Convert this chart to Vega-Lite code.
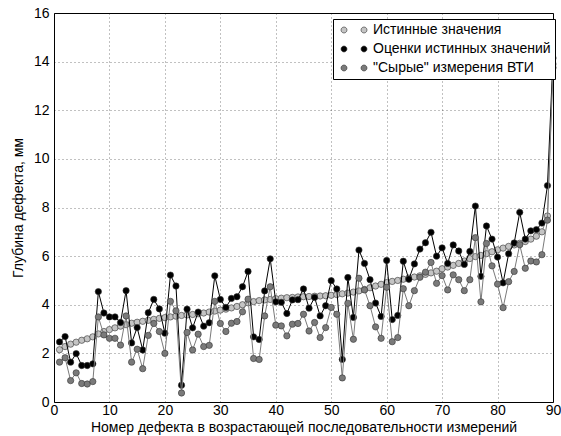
{
 "$schema": "https://vega.github.io/schema/vega-lite/v6.json",
 "width": 499, "height": 389,
 "autosize": {"type": "none"},
 "padding": {"left": 54, "top": 13, "right": 8, "bottom": 34},
 "background": "white",
 "config": {
  "font": "Liberation Sans",
  "view": {"stroke": "black", "strokeWidth": 1},
  "axis": {"grid": true, "gridColor": "#000", "gridDash": [1, 3], "gridWidth": 0.7, "gridOpacity": 0.7, "domain": false, "ticks": false, "labelFontSize": 14, "labelColor": "#000", "titleFontSize": 14, "titleFontWeight": "normal", "titleColor": "#000", "labelFlush": false, "labelOverlap": false}
 },
 "data": {"values": [
  {"x":1,"t":2.15,"e":2.47,"r":1.64},{"x":2,"t":2.28,"e":2.69,"r":1.82},{"x":3,"t":2.38,"e":1.64,"r":0.88},{"x":4,"t":2.46,"e":1.99,"r":1.2},{"x":5,"t":2.54,"e":1.5,"r":0.76},
  {"x":6,"t":2.6,"e":1.5,"r":0.74},{"x":7,"t":2.68,"e":1.57,"r":0.84},{"x":8,"t":2.8,"e":4.54,"r":3.5},{"x":9,"t":2.9,"e":3.66,"r":2.76},{"x":10,"t":2.98,"e":3.5,"r":2.62},
  {"x":11,"t":3.05,"e":3.5,"r":2.62},{"x":12,"t":3.12,"e":3.27,"r":2.34},{"x":13,"t":3.18,"e":4.58,"r":3.54},{"x":14,"t":3.24,"e":2.43,"r":1.64},{"x":15,"t":3.28,"e":3.06,"r":2.17},
  {"x":16,"t":3.32,"e":2.14,"r":1.37},{"x":17,"t":3.36,"e":3.67,"r":2.74},{"x":18,"t":3.4,"e":4.22,"r":3.23},{"x":19,"t":3.44,"e":3.83,"r":2.9},{"x":20,"t":3.47,"e":2.83,"r":2.0},
  {"x":21,"t":3.5,"e":5.22,"r":4.14},{"x":22,"t":3.53,"e":4.77,"r":3.75},{"x":23,"t":3.56,"e":0.69,"r":0.37},{"x":24,"t":3.58,"e":3.82,"r":2.86},{"x":25,"t":3.6,"e":3.05,"r":2.14},
  {"x":26,"t":3.63,"e":3.7,"r":2.79},{"x":27,"t":3.66,"e":3.12,"r":2.28},{"x":28,"t":3.7,"e":3.26,"r":2.33},{"x":29,"t":3.74,"e":5.19,"r":4.14},{"x":30,"t":3.78,"e":4.22,"r":3.23},
  {"x":31,"t":3.82,"e":3.89,"r":2.9},{"x":32,"t":3.87,"e":4.26,"r":3.24},{"x":33,"t":3.93,"e":4.33,"r":3.31},{"x":34,"t":4.0,"e":4.74,"r":3.71},{"x":35,"t":4.08,"e":5.37,"r":4.23},
  {"x":36,"t":4.13,"e":2.68,"r":1.79},{"x":37,"t":4.17,"e":2.57,"r":1.75},{"x":38,"t":4.2,"e":4.57,"r":3.54},{"x":39,"t":4.22,"e":5.89,"r":4.74},{"x":40,"t":4.25,"e":4.12,"r":3.16},
  {"x":41,"t":4.27,"e":4.1,"r":3.13},{"x":42,"t":4.29,"e":3.64,"r":2.72},{"x":43,"t":4.3,"e":4.2,"r":3.2},{"x":44,"t":4.32,"e":4.21,"r":3.23},{"x":45,"t":4.33,"e":4.65,"r":3.61},
  {"x":46,"t":4.34,"e":3.86,"r":2.92},{"x":47,"t":4.35,"e":4.3,"r":3.27},{"x":48,"t":4.36,"e":3.54,"r":2.65},{"x":49,"t":4.37,"e":3.96,"r":3.06},{"x":50,"t":4.39,"e":4.99,"r":3.89},
  {"x":51,"t":4.42,"e":4.65,"r":3.61},{"x":52,"t":4.45,"e":1.75,"r":0.99},{"x":53,"t":4.48,"e":5.12,"r":4.06},{"x":54,"t":4.52,"e":3.48,"r":2.58},{"x":55,"t":4.57,"e":6.25,"r":5.09},
  {"x":56,"t":4.63,"e":5.7,"r":4.61},{"x":57,"t":4.7,"e":5.03,"r":3.96},{"x":58,"t":4.77,"e":4.07,"r":3.09},{"x":59,"t":4.84,"e":3.52,"r":2.62},{"x":60,"t":4.91,"e":5.82,"r":4.72},
  {"x":61,"t":4.96,"e":3.39,"r":2.48},{"x":62,"t":5.0,"e":3.56,"r":2.65},{"x":63,"t":5.05,"e":5.79,"r":4.66},{"x":64,"t":5.1,"e":5.05,"r":3.96},{"x":65,"t":5.14,"e":5.68,"r":4.58},
  {"x":66,"t":5.19,"e":6.29,"r":5.13},{"x":67,"t":5.25,"e":6.55,"r":5.34},{"x":68,"t":5.31,"e":6.98,"r":5.74},{"x":69,"t":5.38,"e":6.0,"r":4.88},{"x":70,"t":5.48,"e":6.34,"r":5.2},
  {"x":71,"t":5.55,"e":5.7,"r":4.61},{"x":72,"t":5.62,"e":6.46,"r":5.23},{"x":73,"t":5.7,"e":6.21,"r":5.03},{"x":74,"t":5.8,"e":5.66,"r":4.58},{"x":75,"t":5.9,"e":6.19,"r":5.03},
  {"x":76,"t":5.98,"e":8.06,"r":6.76},{"x":77,"t":6.03,"e":5.17,"r":4.12},{"x":78,"t":6.1,"e":7.24,"r":6.52},{"x":79,"t":6.18,"e":6.7,"r":5.6},{"x":80,"t":6.26,"e":5.96,"r":4.85},
  {"x":81,"t":6.33,"e":4.9,"r":3.88},{"x":82,"t":6.4,"e":6.1,"r":4.95},{"x":83,"t":6.46,"e":6.54,"r":5.37},{"x":84,"t":6.53,"e":7.8,"r":6.47},{"x":85,"t":6.6,"e":6.7,"r":5.5},
  {"x":86,"t":6.7,"e":7.04,"r":5.8},{"x":87,"t":6.82,"e":7.09,"r":5.76},{"x":88,"t":7.0,"e":7.36,"r":6.06},{"x":89,"t":7.65,"e":8.9,"r":7.48},{"x":90,"t":13.9,"e":14.15,"r":13.75}
 ]},
 "transform": [{"fold": ["t", "e", "r"], "as": ["s", "y"]}],
 "encoding": {
  "x": {"field": "x", "type": "quantitative", "scale": {"domain": [0, 90], "nice": false},
        "axis": {"values": [0,10,20,30,40,50,60,70,80,90], "title": "Номер дефекта в возрастающей последовательности измерений", "labelPadding": 1, "titleBaseline": "alphabetic", "titleY": 29}},
  "y": {"field": "y", "type": "quantitative", "scale": {"domain": [0, 16], "nice": false},
        "axis": {"values": [0,2,4,6,8,10,12,14,16], "title": "Глубина дефекта, мм", "labelPadding": 5, "titlePadding": 8}}
 },
 "layer": [
  {"transform": [{"filter": "datum.s == 't'"}], "mark": {"type": "line", "color": "#888888", "strokeWidth": 1}},
  {"transform": [{"filter": "datum.s == 't'"}], "mark": {"type": "point", "filled": true, "size": 40, "stroke": "#333333", "strokeWidth": 0.6, "opacity": 1},
   "encoding": {"fill": {"field": "s", "type": "nominal", "scale": {"domain": ["t", "e", "r"], "range": ["#c4c4c4", "#000000", "#7a7a7a"]},
     "legend": {"title": null, "orient": "none", "legendX": 279, "legendY": 6, "symbolType": "M -1,0 A 1,1 0 1,0 1,0 A 1,1 0 1,0 -1,0 Z M 5.67,0 A 1,1 0 1,0 7.67,0 A 1,1 0 1,0 5.67,0 Z", "symbolSize": 36, "symbolStrokeColor": "#333333", "symbolStrokeWidth": 0.6, "symbolOpacity": 1, "labelFontSize": 14, "labelColor": "#000", "labelOffset": 22, "rowPadding": 5, "padding": 4, "strokeColor": "#000", "fillColor": "#fff", "labelLimit": 300,
       "labelExpr": "datum.label == 't' ? 'Истинные значения' : datum.label == 'e' ? 'Оценки истинных значений' : '\"Сырые\" измерения ВТИ'"}}}},
  {"transform": [{"filter": "datum.s == 'e'"}], "mark": {"type": "line", "color": "#000000", "strokeWidth": 1}},
  {"transform": [{"filter": "datum.s == 'e'"}], "mark": {"type": "point", "filled": true, "size": 40, "stroke": "#333333", "strokeWidth": 0.6, "opacity": 1},
   "encoding": {"fill": {"field": "s", "type": "nominal"}}},
  {"transform": [{"filter": "datum.s == 'r'"}], "mark": {"type": "line", "color": "#7a7a7a", "strokeWidth": 1}},
  {"transform": [{"filter": "datum.s == 'r'"}], "mark": {"type": "point", "filled": true, "size": 40, "stroke": "#333333", "strokeWidth": 0.6, "opacity": 1},
   "encoding": {"fill": {"field": "s", "type": "nominal"}}}
 ]
}
